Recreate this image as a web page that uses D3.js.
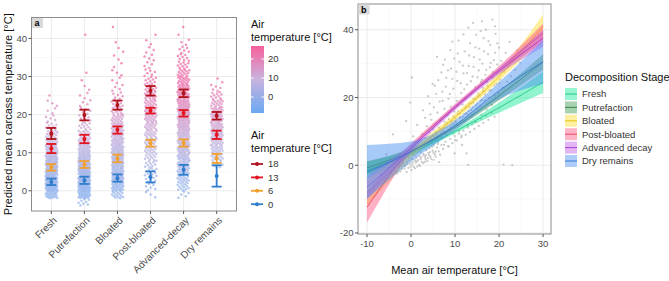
<!DOCTYPE html>
<html><head><meta charset="utf-8">
<script src="https://cdn.jsdelivr.net/npm/d3@7"></script>
<style>body{margin:0;background:#fff} text{font-family:"Liberation Sans",Arial,sans-serif}</style>
</head><body><svg id="c" width="669" height="281"></svg>
<script>
// ---------- Panel a data ----------
const stages = ["Fresh","Putrefaction","Bloated","Post-bloated","Advanced-decay","Dry remains"];
const airLevels = [18,13,6,0];
const airColors = ["#b3121d","#e3141f","#f2a02e","#2f7dcc"];
// [mean, low, high] for each stage
const est18 = [[15.0,13.6,16.5],[19.9,18.5,21.3],[22.5,21.3,23.7],[26.3,25.0,27.5],[25.6,24.6,26.6],[19.7,18.7,20.7]];
const est13 = [[11.1,9.9,12.3],[13.6,12.5,14.7],[16.0,15.0,16.9],[21.0,20.3,21.8],[20.4,19.5,21.2],[14.7,13.6,15.8]];
const est6  = [[6.2,5.3,7.0],[6.9,6.0,7.8],[8.5,7.5,9.5],[12.5,11.6,13.4],[12.5,11.6,13.5],[8.5,7.3,9.7]];
const est0  = [[2.3,1.5,3.2],[2.7,1.8,3.7],[3.3,2.4,4.3],[3.6,2.2,5.1],[5.5,4.2,6.8],[3.9,1.1,6.7]];
// number of raw points per 2 °C bin, bins starting at -4 °C
const binStart = -4, binWidth = 2;
const countsFresh   = [0,25,40,40,38,35,30,25,20,14,8,5,3,3,1,0,0,0,0,0,0,0,0,0];
const countsPutref  = [8,30,40,40,38,35,30,25,20,14,10,7,5,4,3,2,1,1,0,0,0,0,1,0];
const countsBloated = [0,15,25,30,30,30,30,28,26,24,20,16,12,9,6,4,3,3,2,2,2,1,0,1];
const countsPostbl  = [0,3,6,8,10,10,12,14,15,16,17,18,18,16,14,12,9,6,4,4,3,2,1,0];
const countsAdvdec  = [0,5,12,16,20,22,24,26,28,28,28,28,28,26,24,22,18,14,10,8,6,3,1,1];
const countsDry     = [0,0,0,0,0,6,14,18,20,22,22,20,18,14,10,5,2,0,0,0,0,0,0,0];
const countsByStage = [countsFresh,countsPutref,countsBloated,countsPostbl,countsAdvdec,countsDry];
const yTicksA = [0,10,20,30,40];
const colorbarTicks = [0,10,20];

// ---------- Panel b data ----------
const decompStages = ["Fresh","Putrefaction","Bloated","Post-bloated","Advanced decay","Dry remains"];
const stageFill = ["#19e89a","#3c9a4e","#ffdc2e","#ff5a86","#c45ae6","#4a90f0"];
const stageLine = ["#18c47f","#2e7d3e","#e0be00","#e03c5c","#a038d0","#2a6fd0"];
const fitX = [-10,0,10,20,30];
const fitFresh   = [-1.5,3.6,10.0,17.0,24.5],  hwFresh   = [2.5,1.0,0.6,1.5,3.2];
const fitPutref  = [-0.8,4.2,11.3,20.5,30.5],  hwPutref  = [2.0,0.8,0.6,1.3,2.3];
const fitBloated = [-8,3.5,14.2,26.2,41],      hwBloated = [4,1.5,1,1.3,3.5];
const fitPostbl  = [-12.4,5.2,17.3,28.3,39],   hwPostbl  = [4.6,1.2,0.8,1.0,2.8];
const fitAdvdec  = [-6.5,5.0,17,27.8,37.5],    hwAdvdec  = [3.5,1.2,0.8,1.0,2.5];
const fitDry     = [-2,4,11.8,22,30.5],        hwDry     = [8,3,1.5,2.5,6.5];
const fits = [fitFresh,fitPutref,fitBloated,fitPostbl,fitAdvdec,fitDry];
const hws  = [hwFresh,hwPutref,hwBloated,hwPostbl,hwAdvdec,hwDry];
const xTicksB = [-10,0,10,20,30];
const yTicksB = [-20,0,20,40];
const scatterB = [
[-4.5,-2.1],[-3.8,-1.2],[-3.5,0.4],[-3.2,-2.5],[-3.0,1.2],[-2.8,-0.6],[-2.6,2.1],[-2.4,-1.8],[-2.2,0.9],[-2.0,-0.3],[-1.9,3.0],[-1.7,1.6],[-1.5,-1.0],[-1.4,0.2],[-1.2,2.6],[-1.0,-2.0],[-0.9,1.0],[-0.7,3.8],[-0.6,-0.8],[-0.4,2.2],[-0.2,0.5],[0.0,4.4],[0.1,-1.4],[0.3,1.8],[0.4,3.1],[-5.6,3.2],[-6.8,-3.0],[-4.1,9.1],[-0.2,18.5],[0.2,25.9],[-1.1,13.0],[0.5,8.5],
[0.6,-0.5],[0.8,2.9],[1.0,5.2],[1.1,0.8],[1.3,3.6],[1.5,6.8],[1.6,1.5],[1.8,4.2],[2.0,-0.2],[2.1,7.5],[2.3,2.4],[2.5,5.0],[2.6,9.2],[2.8,3.3],[3.0,6.1],[3.1,0.9],[3.3,8.0],[3.5,4.5],[3.6,11.5],[3.8,2.1],[4.0,6.9],[4.1,9.8],[4.3,3.9],[4.5,7.7],[4.6,13.4],[4.8,5.4],[5.0,10.6],[5.1,1.6],[1.4,11.9],[2.7,16.2],[3.9,20.4],[4.4,15.0],[4.9,24.0],
[5.3,7.2],[5.5,12.3],[5.6,4.0],[5.8,9.0],[6.0,15.5],[6.1,6.3],[6.3,11.1],[6.5,18.8],[6.6,3.1],[6.8,8.4],[7.0,13.9],[7.1,21.7],[7.3,10.2],[7.5,6.0],[7.6,16.6],[7.8,12.0],[8.0,25.8],[8.1,8.8],[8.3,14.7],[8.5,19.6],[8.6,5.5],[8.8,11.4],[9.0,17.3],[9.1,28.5],[9.3,13.1],[9.5,9.4],[9.6,22.6],[9.8,15.8],[10.0,7.4],[5.9,32.0],[6.9,27.4],[7.7,31.2],[8.9,34.0],[5.4,23.5],[6.4,0.9],[9.9,3.5],
[10.2,12.6],[10.4,19.0],[10.5,24.9],[10.7,16.0],[10.9,10.1],[11.0,30.5],[11.2,14.2],[11.4,21.3],[11.5,8.7],[11.7,17.9],[11.9,27.1],[12.0,13.0],[12.2,33.6],[12.4,19.7],[12.5,15.4],[12.7,23.8],[12.9,11.8],[13.0,0.1],[13.1,29.3],[13.3,17.2],[13.4,36.0],[13.6,21.0],[13.8,14.6],[14.0,26.2],[14.1,18.4],[14.3,31.9],[14.5,12.7],[14.6,23.1],[14.8,38.5],[15.0,16.8],[13.0,40.6],[10.8,36.8],[12.6,3.5],[11.6,6.0],
[15.2,20.3],[15.4,28.0],[15.5,34.4],[15.7,17.5],[15.9,24.6],[16.0,14.9],[16.2,30.0],[16.4,21.9],[16.5,37.5],[16.7,19.1],[16.9,26.7],[17.0,40.0],[17.2,16.4],[17.4,23.4],[17.5,32.8],[17.7,19.9],[17.9,28.9],[18.0,35.5],[18.2,22.2],[18.4,17.8],[18.6,26.0],[18.8,31.0],[19.0,20.6],[19.2,38.8],[19.4,24.1],[19.6,29.7],[19.8,21.4],[20.0,34.7],[16.1,42.5],[19.1,41.0],
[20.3,25.3],[20.5,30.8],[20.8,22.9],[21.0,0.2],[21.2,27.6],[21.5,33.2],[21.8,24.7],[22.1,29.0],[22.4,36.4],[22.7,26.3],[23.0,0.0],[23.3,31.5],[23.7,28.2],[24.2,33.9],[24.8,30.3],
[0.2,2.0],[0.7,3.5],[1.2,2.2],[1.7,4.8],[2.2,3.9],[2.9,5.5],[3.4,3.0],[3.7,6.2],[4.2,5.0],[4.7,6.6],[5.2,5.9],[5.7,7.8],[6.2,7.0],[6.7,9.6],[7.2,8.1],[7.4,11.0],[7.9,9.5],[8.2,12.4],[8.7,10.3],[9.2,11.9],[9.7,12.2],[10.1,13.8],[10.6,11.7],[11.1,15.3],[11.3,12.6],[11.8,14.3],[12.3,16.8],[12.8,15.0],[13.2,18.1],[13.7,16.3],[14.2,19.5],[14.7,17.7],[15.3,21.1],[15.8,19.0],[16.3,22.8],[16.8,20.9],[17.3,24.5],[17.8,22.0],[18.3,25.7],[18.9,23.6],[19.5,27.2],[20.1,24.2],
[0.3,0.2],[0.9,1.4],[1.4,-0.4],[1.9,2.6],[2.4,1.0],[2.9,2.9],[3.3,1.7],[3.9,3.6],[4.4,2.5],[4.9,4.3],[5.4,3.2],[5.9,5.2],[6.3,4.1],[6.9,6.0],[7.3,4.8],[7.8,6.9],[8.4,5.6],[8.9,7.8],[9.4,6.5],[9.9,8.6],[10.4,7.3],[10.9,9.3],[11.4,8.2],[11.9,10.2],[12.4,9.0],[12.9,11.1],[13.4,9.8],[13.9,12.0],[14.4,10.7],[14.9,12.8],[15.4,11.6],[15.9,13.7],[16.4,12.5],[17.0,14.6],[17.6,13.4],[18.3,15.5],[19.0,14.3],
[-2.9,-1.9],[-2.5,0.0],[-2.1,-1.1],[-1.8,0.6],[-1.3,-0.3],[-0.8,0.3],[-0.5,1.4],[-0.1,-0.4],[0.4,0.9],[0.9,-0.9],[1.3,1.1],[1.8,0.1],[2.2,1.8],[2.7,0.6],[3.2,2.4],[3.7,1.2],[4.1,3.0],[4.6,1.9],[5.1,3.7],[5.6,2.5],
[3.2,14.0],[4.2,18.2],[5.2,17.1],[5.7,21.0],[6.2,25.1],[6.7,13.2],[7.2,19.0],[7.9,23.2],[8.4,28.0],[8.8,21.0],[9.4,25.5],[9.8,31.5],[10.3,27.6],[10.6,33.0],[11.3,24.2],[11.8,29.4],[12.1,22.4],[12.7,27.2],[13.2,32.4],[13.6,24.8],[14.2,29.0],[14.6,34.8],[15.1,26.0],[15.6,31.2],[16.1,25.2],[16.6,33.6],[17.1,28.1],[17.6,36.6],[18.1,30.2],[18.6,27.5],[19.1,33.2],[19.6,36.0],[11.9,38.6],[9.4,36.5],[7.3,29.6],[15.8,39.6],[14.1,42.0],[18.5,43.0],
[5.1,8.6],[5.6,9.9],[6.1,8.2],[6.6,10.8],[7.1,10.0],[7.6,12.9],[8.1,11.1],[8.6,13.6],[9.1,12.8],[9.6,14.4],[10.1,13.0],[10.6,15.2],[11.1,14.0],[11.6,16.2],[12.1,15.1],[12.6,17.4],[13.1,16.0],[13.6,18.4],[14.1,17.1],[14.6,19.5],[15.1,18.2],[15.6,20.6],[16.1,19.3],[16.6,21.8]
];

// ---------- drawing ----------
const svg = d3.select("#c");
const tickCol = "#4d4d4d", gridMaj = "#ebebeb", gridMin = "#f5f5f5", borderCol = "#8c8c8c";

// Panel a
const A = {l:31.5, r:236.5, t:17.5, b:211};
const xa = d3.scalePoint().domain(stages).range([A.l, A.r]).padding(0.6);
const ya = d3.scaleLinear().domain([-5.3,45.5]).range([A.b, A.t]);
const ga = svg.append("g");
ga.selectAll(".mn").data([5,15,25,35]).join("line").attr("x1",A.l).attr("x2",A.r)
  .attr("y1",d=>ya(d)).attr("y2",d=>ya(d)).attr("stroke",gridMin).attr("stroke-width",0.6);
ga.selectAll(".mj").data(yTicksA).join("line").attr("x1",A.l).attr("x2",A.r)
  .attr("y1",d=>ya(d)).attr("y2",d=>ya(d)).attr("stroke",gridMaj).attr("stroke-width",1);
ga.selectAll(".vx").data(stages).join("line").attr("x1",d=>xa(d)).attr("x2",d=>xa(d))
  .attr("y1",A.t).attr("y2",A.b).attr("stroke",gridMaj).attr("stroke-width",1);

const ptColor = d3.scaleLinear().domain([0,14,30]).range(["#94b6ee","#c6b3de","#f06ea8"]).clamp(true);
const pts = [];
countsByStage.forEach((counts,s)=>{
  counts.forEach((c,b)=>{
    for(let k=0;k<c;k++){
      const v = binStart + b*binWidth + (k+0.5)/c*binWidth;
      const jf = ((k*0.6180339 + b*0.3819 + s*0.17) % 1) - 0.5;
      pts.push({s:stages[s], v, jf});
    }
  });
});
ga.selectAll(".pt").data(pts).join("circle")
  .attr("cx",d=>xa(d.s)+d.jf*12).attr("cy",d=>ya(d.v)).attr("r",1.25)
  .attr("fill",d=>ptColor(d.v)).attr("opacity",0.75);

const ests = [est18,est13,est6,est0];
ests.forEach((est,li)=>{
  const g = ga.append("g").attr("stroke",airColors[li]).attr("fill",airColors[li]);
  est.forEach((e,si)=>{
    const x = xa(stages[si]);
    g.append("line").attr("x1",x).attr("x2",x).attr("y1",ya(e[1])).attr("y2",ya(e[2])).attr("stroke-width",1.8);
    g.append("line").attr("x1",x-5).attr("x2",x+5).attr("y1",ya(e[1])).attr("y2",ya(e[1])).attr("stroke-width",1.8);
    g.append("line").attr("x1",x-5).attr("x2",x+5).attr("y1",ya(e[2])).attr("y2",ya(e[2])).attr("stroke-width",1.8);
    g.append("circle").attr("cx",x).attr("cy",ya(e[0])).attr("r",2).attr("stroke","none");
  });
});
ga.append("rect").attr("x",A.l).attr("y",A.t).attr("width",A.r-A.l).attr("height",A.b-A.t)
  .attr("fill","none").attr("stroke",borderCol).attr("stroke-width",1);
ga.append("rect").attr("x",A.l+0.5).attr("y",A.t+0.5).attr("width",11).attr("height",10).attr("fill","#d9d9d9");
ga.append("text").attr("x",A.l+3).attr("y",A.t+8.5).attr("font-size",9).attr("font-weight","bold").text("a");
yTicksA.forEach(t=>{
  ga.append("line").attr("x1",A.l-3).attr("x2",A.l).attr("y1",ya(t)).attr("y2",ya(t)).attr("stroke","#555");
  ga.append("text").attr("x",A.l-4.5).attr("y",ya(t)).attr("dy","0.35em").attr("text-anchor","end")
    .attr("font-size",9.5).attr("fill",tickCol).text(t);
});
stages.forEach(s=>{
  const x = xa(s);
  ga.append("line").attr("x1",x).attr("x2",x).attr("y1",A.b).attr("y2",A.b+3).attr("stroke","#555");
  ga.append("text").attr("transform",`translate(${x+1},${A.b+5}) rotate(-45)`).attr("dy","0.71em")
    .attr("text-anchor","end").attr("font-size",10).attr("fill",tickCol).text(s);
});
ga.append("text").attr("transform",`translate(12,${(A.t+A.b)/2}) rotate(-90)`).attr("text-anchor","middle")
  .attr("font-size",11).attr("fill","#111").text("Predicted mean carcass temperature [°C]");

// legend 1 (colour bar)
const defs = svg.append("defs");
const grad = defs.append("linearGradient").attr("id","gb").attr("x1",0).attr("x2",0).attr("y1",1).attr("y2",0);
grad.append("stop").attr("offset","0%").attr("stop-color","#6aa8f2");
grad.append("stop").attr("offset","50%").attr("stop-color","#c8b4de");
grad.append("stop").attr("offset","100%").attr("stop-color","#f7609c");
svg.append("text").attr("x",251).attr("y",28).attr("font-size",11).attr("fill","#111").text("Air");
svg.append("text").attr("x",251).attr("y",41).attr("font-size",11).attr("fill","#111").text("temperature [°C]");
const cb = d3.scaleLinear().domain([-8.4,26.8]).range([113,46]);
svg.append("rect").attr("x",251).attr("y",46).attr("width",13).attr("height",67).attr("fill","url(#gb)");
colorbarTicks.forEach(t=>{
  svg.append("line").attr("x1",251).attr("x2",253.5).attr("y1",cb(t)).attr("y2",cb(t)).attr("stroke","#fff");
  svg.append("line").attr("x1",261.5).attr("x2",264).attr("y1",cb(t)).attr("y2",cb(t)).attr("stroke","#fff");
  svg.append("text").attr("x",268).attr("y",cb(t)).attr("dy","0.35em").attr("font-size",9.5).attr("fill","#333").text(t);
});
// legend 2
svg.append("text").attr("x",251).attr("y",139).attr("font-size",11).attr("fill","#111").text("Air");
svg.append("text").attr("x",251).attr("y",152).attr("font-size",11).attr("fill","#111").text("temperature [°C]");
airLevels.forEach((lv,i)=>{
  const y = 164 + i*13.4;
  svg.append("line").attr("x1",251).attr("x2",263).attr("y1",y).attr("y2",y).attr("stroke",airColors[i]).attr("stroke-width",1.8);
  svg.append("circle").attr("cx",257).attr("cy",y).attr("r",2).attr("fill",airColors[i]);
  svg.append("text").attr("x",268).attr("y",y).attr("dy","0.35em").attr("font-size",9.5).attr("fill","#333").text(lv);
});

// Panel b
const B = {l:358, r:551, t:4, b:234};
const xb = d3.scaleLinear().domain([-12.05,31.8]).range([B.l,B.r]);
const yb = d3.scaleLinear().domain([-20.3,47.6]).range([B.b,B.t]);
const gb = svg.append("g");
gb.selectAll(".mnx").data([-5,5,15,25]).join("line").attr("x1",d=>xb(d)).attr("x2",d=>xb(d))
  .attr("y1",B.t).attr("y2",B.b).attr("stroke",gridMin).attr("stroke-width",0.6);
gb.selectAll(".mny").data([-10,10,30]).join("line").attr("x1",B.l).attr("x2",B.r)
  .attr("y1",d=>yb(d)).attr("y2",d=>yb(d)).attr("stroke",gridMin).attr("stroke-width",0.6);
gb.selectAll(".mjx").data(xTicksB).join("line").attr("x1",d=>xb(d)).attr("x2",d=>xb(d))
  .attr("y1",B.t).attr("y2",B.b).attr("stroke",gridMaj).attr("stroke-width",1);
gb.selectAll(".mjy").data(yTicksB).join("line").attr("x1",B.l).attr("x2",B.r)
  .attr("y1",d=>yb(d)).attr("y2",d=>yb(d)).attr("stroke",gridMaj).attr("stroke-width",1);
gb.selectAll(".sp").data(scatterB).join("circle").attr("cx",d=>xb(d[0])).attr("cy",d=>yb(d[1]))
  .attr("r",1.15).attr("fill","#b8b8b8").attr("opacity",0.75);
const area = d3.area().curve(d3.curveMonotoneX).x(d=>xb(d.x)).y0(d=>yb(d.f-d.h)).y1(d=>yb(d.f+d.h));
const line = d3.line().curve(d3.curveMonotoneX).x(d=>xb(d.x)).y(d=>yb(d.f));
fits.forEach((f,i)=>{
  const data = fitX.map((x,j)=>({x, f:f[j], h:hws[i][j]}));
  gb.append("path").attr("d",area(data)).attr("fill",stageFill[i]).attr("opacity",0.48);
  gb.append("path").attr("d",line(data)).attr("fill","none").attr("stroke",stageLine[i]).attr("stroke-width",0.8);
});
gb.append("rect").attr("x",B.l).attr("y",B.t).attr("width",B.r-B.l).attr("height",B.b-B.t)
  .attr("fill","none").attr("stroke",borderCol).attr("stroke-width",1);
gb.append("rect").attr("x",B.l+0.5).attr("y",B.t+0.5).attr("width",11).attr("height",10).attr("fill","#d9d9d9");
gb.append("text").attr("x",B.l+3).attr("y",B.t+8.5).attr("font-size",9).attr("font-weight","bold").text("b");
xTicksB.forEach(t=>{
  gb.append("line").attr("x1",xb(t)).attr("x2",xb(t)).attr("y1",B.b).attr("y2",B.b+3).attr("stroke","#555");
  gb.append("text").attr("x",xb(t)).attr("y",B.b+6).attr("dy","0.71em").attr("text-anchor","middle")
    .attr("font-size",9.5).attr("fill",tickCol).text(t);
});
yTicksB.forEach(t=>{
  gb.append("line").attr("x1",B.l-3).attr("x2",B.l).attr("y1",yb(t)).attr("y2",yb(t)).attr("stroke","#555");
  gb.append("text").attr("x",B.l-4.5).attr("y",yb(t)).attr("dy","0.35em").attr("text-anchor","end")
    .attr("font-size",9.5).attr("fill",tickCol).text(t);
});
gb.append("text").attr("x",(B.l+B.r)/2).attr("y",274).attr("text-anchor","middle")
  .attr("font-size",11).attr("fill","#111").text("Mean air temperature [°C]");
// legend b
svg.append("text").attr("x",565).attr("y",81).attr("font-size",11).attr("fill","#111").text("Decomposition Stage");
decompStages.forEach((s,i)=>{
  const y = 94 + i*13.4;
  svg.append("rect").attr("x",565).attr("y",y-6).attr("width",12).attr("height",12).attr("fill",stageFill[i]).attr("opacity",0.45);
  svg.append("line").attr("x1",565).attr("x2",577).attr("y1",y).attr("y2",y).attr("stroke",stageLine[i]).attr("stroke-width",0.9);
  svg.append("text").attr("x",582).attr("y",y).attr("dy","0.35em").attr("font-size",9.5).attr("fill","#333").text(s);
});
</script></body></html>
